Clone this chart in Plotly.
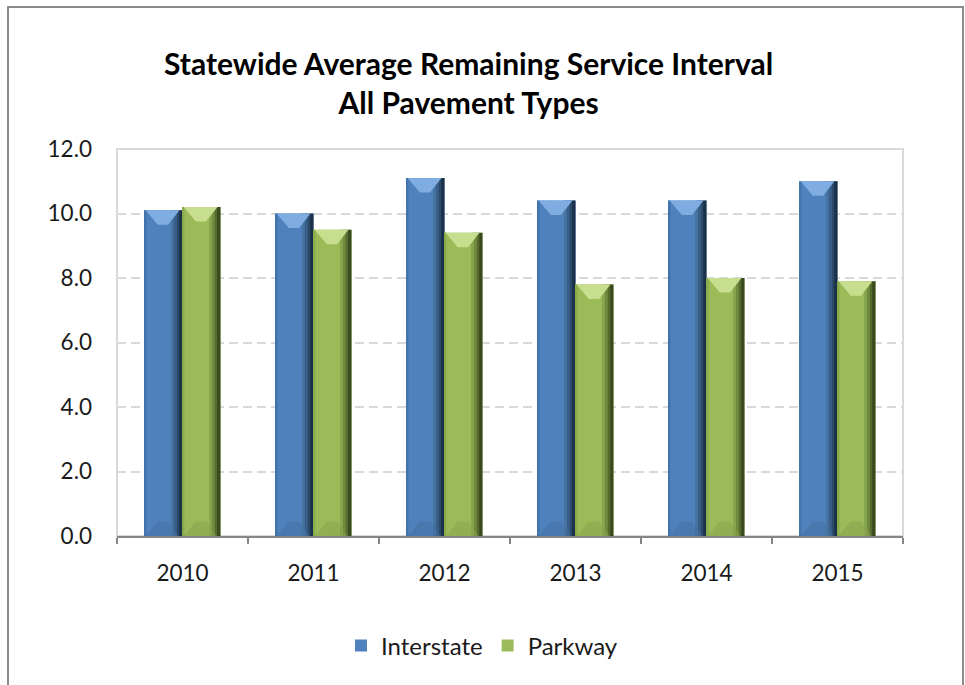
import plotly.graph_objects as go

# Data
years = ["2010", "2011", "2012", "2013", "2014", "2015"]
interstate = [10.1, 10.0, 11.1, 10.4, 10.4, 11.0]
parkway = [10.2, 9.5, 9.4, 7.8, 8.0, 7.9]

FONT = "Lato"
W = 0.29          # bar width in category units
BEVEL = 0.45      # bevel depth in value units

xs = list(range(len(years)))

styles = {
    "Interstate": dict(
        base="#4f81bd", edge="#4273ad",
        shades=["#46739f", "#395f88", "#2b4969", "#1c3048"],
        top="#7fade2", bottom="#44709f", start=-W),
    "Parkway": dict(
        base="#9bbb59", edge="#8aab4b",
        shades=["#87a54e", "#6f8b3d", "#56692e", "#3a4a1f"],
        top="#c6de8e", bottom="#87a44c", start=0.0),
}
series = {"Interstate": interstate, "Parkway": parkway}

fig = go.Figure()

# Main bars with shaded strips to give a bevelled look
strip_bounds = [(0.70, 0.77), (0.77, 0.84), (0.84, 0.91), (0.91, 1.0)]
for name, vals in series.items():
    st = styles[name]
    fig.add_trace(go.Bar(
        x=xs, y=vals, name=name, offset=st["start"], width=W,
        marker=dict(color=st["base"], line=dict(width=0)),
        showlegend=True, hoverinfo="y+name"))
    fig.add_trace(go.Bar(
        x=xs, y=vals, offset=st["start"], width=W * 0.05,
        marker=dict(color=st["edge"], line=dict(width=0)),
        showlegend=False, hoverinfo="skip"))
    for (f0, f1), c in zip(strip_bounds, st["shades"]):
        fig.add_trace(go.Bar(
            x=xs, y=vals, offset=st["start"] + f0 * W, width=(f1 - f0) * W,
            marker=dict(color=c, line=dict(width=0)),
            showlegend=False, hoverinfo="skip"))

# Top and bottom bevel facets, built from the same values
for name, vals in series.items():
    st = styles[name]
    tx, ty, bx, by = [], [], [], []
    for i, v in zip(xs, vals):
        xl = i + st["start"]
        tx += [xl + 0.03 * W, xl + 0.92 * W, xl + 0.62 * W, xl + 0.35 * W, xl + 0.03 * W, None]
        ty += [v, v, v - BEVEL, v - BEVEL, v, None]
        bx += [xl + 0.03 * W, xl + 0.90 * W, xl + 0.62 * W, xl + 0.35 * W, xl + 0.03 * W, None]
        by += [0, 0, BEVEL, BEVEL, 0, None]
    fig.add_trace(go.Scatter(
        x=tx, y=ty, mode="lines", fill="toself", fillcolor=st["top"],
        line=dict(width=0, color=st["top"]), showlegend=False, hoverinfo="skip"))
    fig.add_trace(go.Scatter(
        x=bx, y=by, mode="lines", fill="toself", fillcolor=st["bottom"],
        opacity=0.5, line=dict(width=0, color=st["bottom"]),
        showlegend=False, hoverinfo="skip"))

PLOT_W, PLOT_H = 786, 387

fig.update_layout(
    width=965, height=685,
    margin=dict(l=117, r=62, t=149, b=149),
    paper_bgcolor="white", plot_bgcolor="white",
    barmode="overlay",
    font=dict(family=FONT, size=22, color="#1a1a1a"),
    annotations=[dict(
        text="<b>Statewide Average Remaining Service Interval<br>All Pavement Types</b>",
        xref="paper", yref="paper",
        x=(468 - 117) / PLOT_W, y=(536 - 83) / PLOT_H,
        xanchor="center", yanchor="middle", showarrow=False, align="center",
        font=dict(family=FONT, size=30, color="#000000"))],
    legend=dict(
        orientation="h", x=(482 - 117) / PLOT_W, xanchor="center",
        y=(536 - 646) / PLOT_H, yanchor="middle",
        font=dict(family=FONT, size=24, color="#1a1a1a"),
        itemwidth=30, tracegroupgap=0),
    showlegend=True,
    xaxis=dict(
        range=[-0.5, len(years) - 0.5],
        tickmode="array", tickvals=xs, ticktext=years,
        ticks="", showgrid=False, zeroline=False,
        showline=True, linecolor="#868686", linewidth=2,
        ticklabelstandoff=16,
        tickfont=dict(family=FONT, size=22.5, color="#1a1a1a"),
        minor=dict(tick0=-0.5, dtick=1, ticks="outside", ticklen=6,
                   tickcolor="#868686", tickwidth=2, showgrid=False),
        fixedrange=True),
    yaxis=dict(
        range=[0, 12], dtick=2, tickformat=".1f",
        showgrid=True, gridcolor="#d9d9d9", gridwidth=2, griddash="9px,5px",
        zeroline=False, showline=False, ticks="",
        ticklabelstandoff=24,
        tickfont=dict(family=FONT, size=22.5, color="#1a1a1a"),
        fixedrange=True),
    shapes=[
        # plot-area frame
        dict(type="rect", xref="x domain", yref="y domain", x0=0, x1=1, y0=0, y1=1,
             line=dict(color="#d9d9d9", width=2), layer="below"),
        # chart outer border
        dict(type="rect", xref="paper", yref="paper",
             x0=(8 - 117) / PLOT_W, x1=(963 - 117) / PLOT_W,
             y0=(536 - 700) / PLOT_H, y1=(536 - 7) / PLOT_H,
             line=dict(color="#8c8c8c", width=2), layer="above"),
    ],
)

fig.write_html("out.html")
